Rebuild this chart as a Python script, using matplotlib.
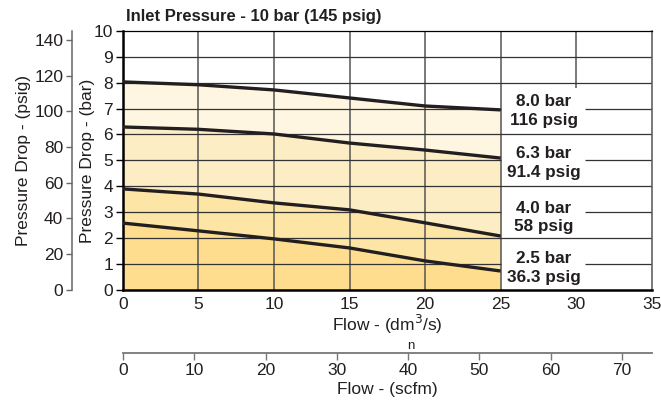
import numpy as np
from matplotlib import pyplot as plt

plt.rcParams['font.family'] = ['Liberation Sans', 'DejaVu Sans']

# flow in dm3/s (normal) and pressure drop in bar for each inlet setting
flow = [0, 5, 10, 15, 20, 25]
drop_80 = [8.03, 7.92, 7.72, 7.41, 7.10, 6.95]
drop_63 = [6.29, 6.20, 6.02, 5.67, 5.40, 5.09]
drop_40 = [3.90, 3.70, 3.36, 3.09, 2.59, 2.08]
drop_25 = [2.58, 2.28, 1.97, 1.62, 1.12, 0.73]

labels = ['8.0 bar\n116 psig', '6.3 bar\n91.4 psig', '4.0 bar\n58 psig', '2.5 bar\n36.3 psig']
label_y = [6.9, 4.9, 2.8, 0.85]
band_colors = ['#fef6e0', '#fdedc4', '#fde5a6', '#fede8e']

BAR_TO_PSI = 14.5
DM3S_TO_SCFM = 2.119
FS = 12.5

fig = plt.figure(figsize=(6.61, 4.01), dpi=100)
ax = fig.add_axes([0.186, 0.277, 0.80, 0.646])
ax.set_xlim(0, 35)
ax.set_ylim(0, 10)

# coloured bands between curves
curves = [drop_80, drop_63, drop_40, drop_25, [0] * len(flow)]
for i in range(4):
    ax.fill_between(flow, curves[i + 1], curves[i], color=band_colors[i], lw=0, zorder=1)

# grid
for gx in [5, 10, 15, 20, 25]:
    ax.axvline(gx, color='#555555', lw=1.1, zorder=2)
ax.vlines(30, 7.8, 10, color='#555555', lw=1.1, zorder=2)
for gy in [2, 4, 6, 8, 9]:
    ax.axhline(gy, color='#333333', lw=0.9, zorder=2)
for gy in [1, 3, 5, 7]:
    ax.hlines(gy, 0, 25, color='#333333', lw=0.9, zorder=2)
    ax.hlines(gy, 30.55, 35, color='#333333', lw=0.9, zorder=2)

for c in curves[:4]:
    ax.plot(flow, c, color='#231f20', lw=2.4, zorder=3, solid_capstyle='butt')

for lab, ly in zip(labels, label_y):
    ax.text(27.85, ly, lab, ha='center', va='center', fontsize=12.3,
            fontweight='bold', color='#231f20', linespacing=1.3, zorder=4)

ax.spines['left'].set_linewidth(1.8)
ax.spines['bottom'].set_linewidth(1.8)
ax.spines['top'].set_linewidth(0.9)
ax.spines['right'].set_linewidth(1.1)
ax.spines['right'].set_color('#555555')
ax.set_xticks(range(0, 36, 5))
ax.set_yticks(range(0, 11))
ax.tick_params(axis='x', length=0, pad=5, labelsize=FS, labelcolor='#231f20')
ax.tick_params(axis='y', length=5, width=1, pad=2, labelsize=FS, labelcolor='#231f20')
ax.set_ylabel('Pressure Drop - (bar)', fontsize=FS, color='#231f20', labelpad=-1)
ax.set_xlabel('Flow - (dm$^3$/s)', fontsize=FS, color='#231f20', labelpad=1)
ax.text(19.05, -2.15, 'n', ha='center', va='center', fontsize=9.5, color='#231f20')

ax.text(0.2, 10.55, 'Inlet Pressure - 10 bar (145 psig)', fontsize=12,
        fontweight='bold', ha='left', va='center', color='#231f20')

# psig axis on the far left
ax2 = ax.twinx()
ax2.set_ylim(0, 10 * BAR_TO_PSI)
ax2.yaxis.set_ticks_position('left')
ax2.yaxis.set_label_position('left')
ax2.spines['left'].set_position(('outward', 37))
ax2.spines['left'].set_color('#666666')
ax2.spines['left'].set_linewidth(1.1)
for s in ['right', 'top', 'bottom']:
    ax2.spines[s].set_visible(False)
ax2.set_yticks(range(0, 141, 20))
ax2.tick_params(axis='y', length=4, width=1, color='#666666', pad=2,
                labelsize=FS, labelcolor='#231f20')
ax2.set_ylabel('Pressure Drop - (psig)', fontsize=FS, color='#231f20', labelpad=2)

# scfm axis below
sec = ax.secondary_xaxis(-0.243, functions=(lambda v: v * DM3S_TO_SCFM,
                                             lambda v: v / DM3S_TO_SCFM))
sec.set_xticks(range(0, 71, 10))
sec.spines['bottom'].set_color('#777777')
sec.spines['bottom'].set_linewidth(1.3)
sec.tick_params(length=5, width=1, color='#777777', pad=2, labelsize=FS,
                labelcolor='#231f20')
sec.set_xlabel('Flow - (scfm)', fontsize=FS, color='#231f20', labelpad=3)

fig.savefig('out.png', dpi=100)
